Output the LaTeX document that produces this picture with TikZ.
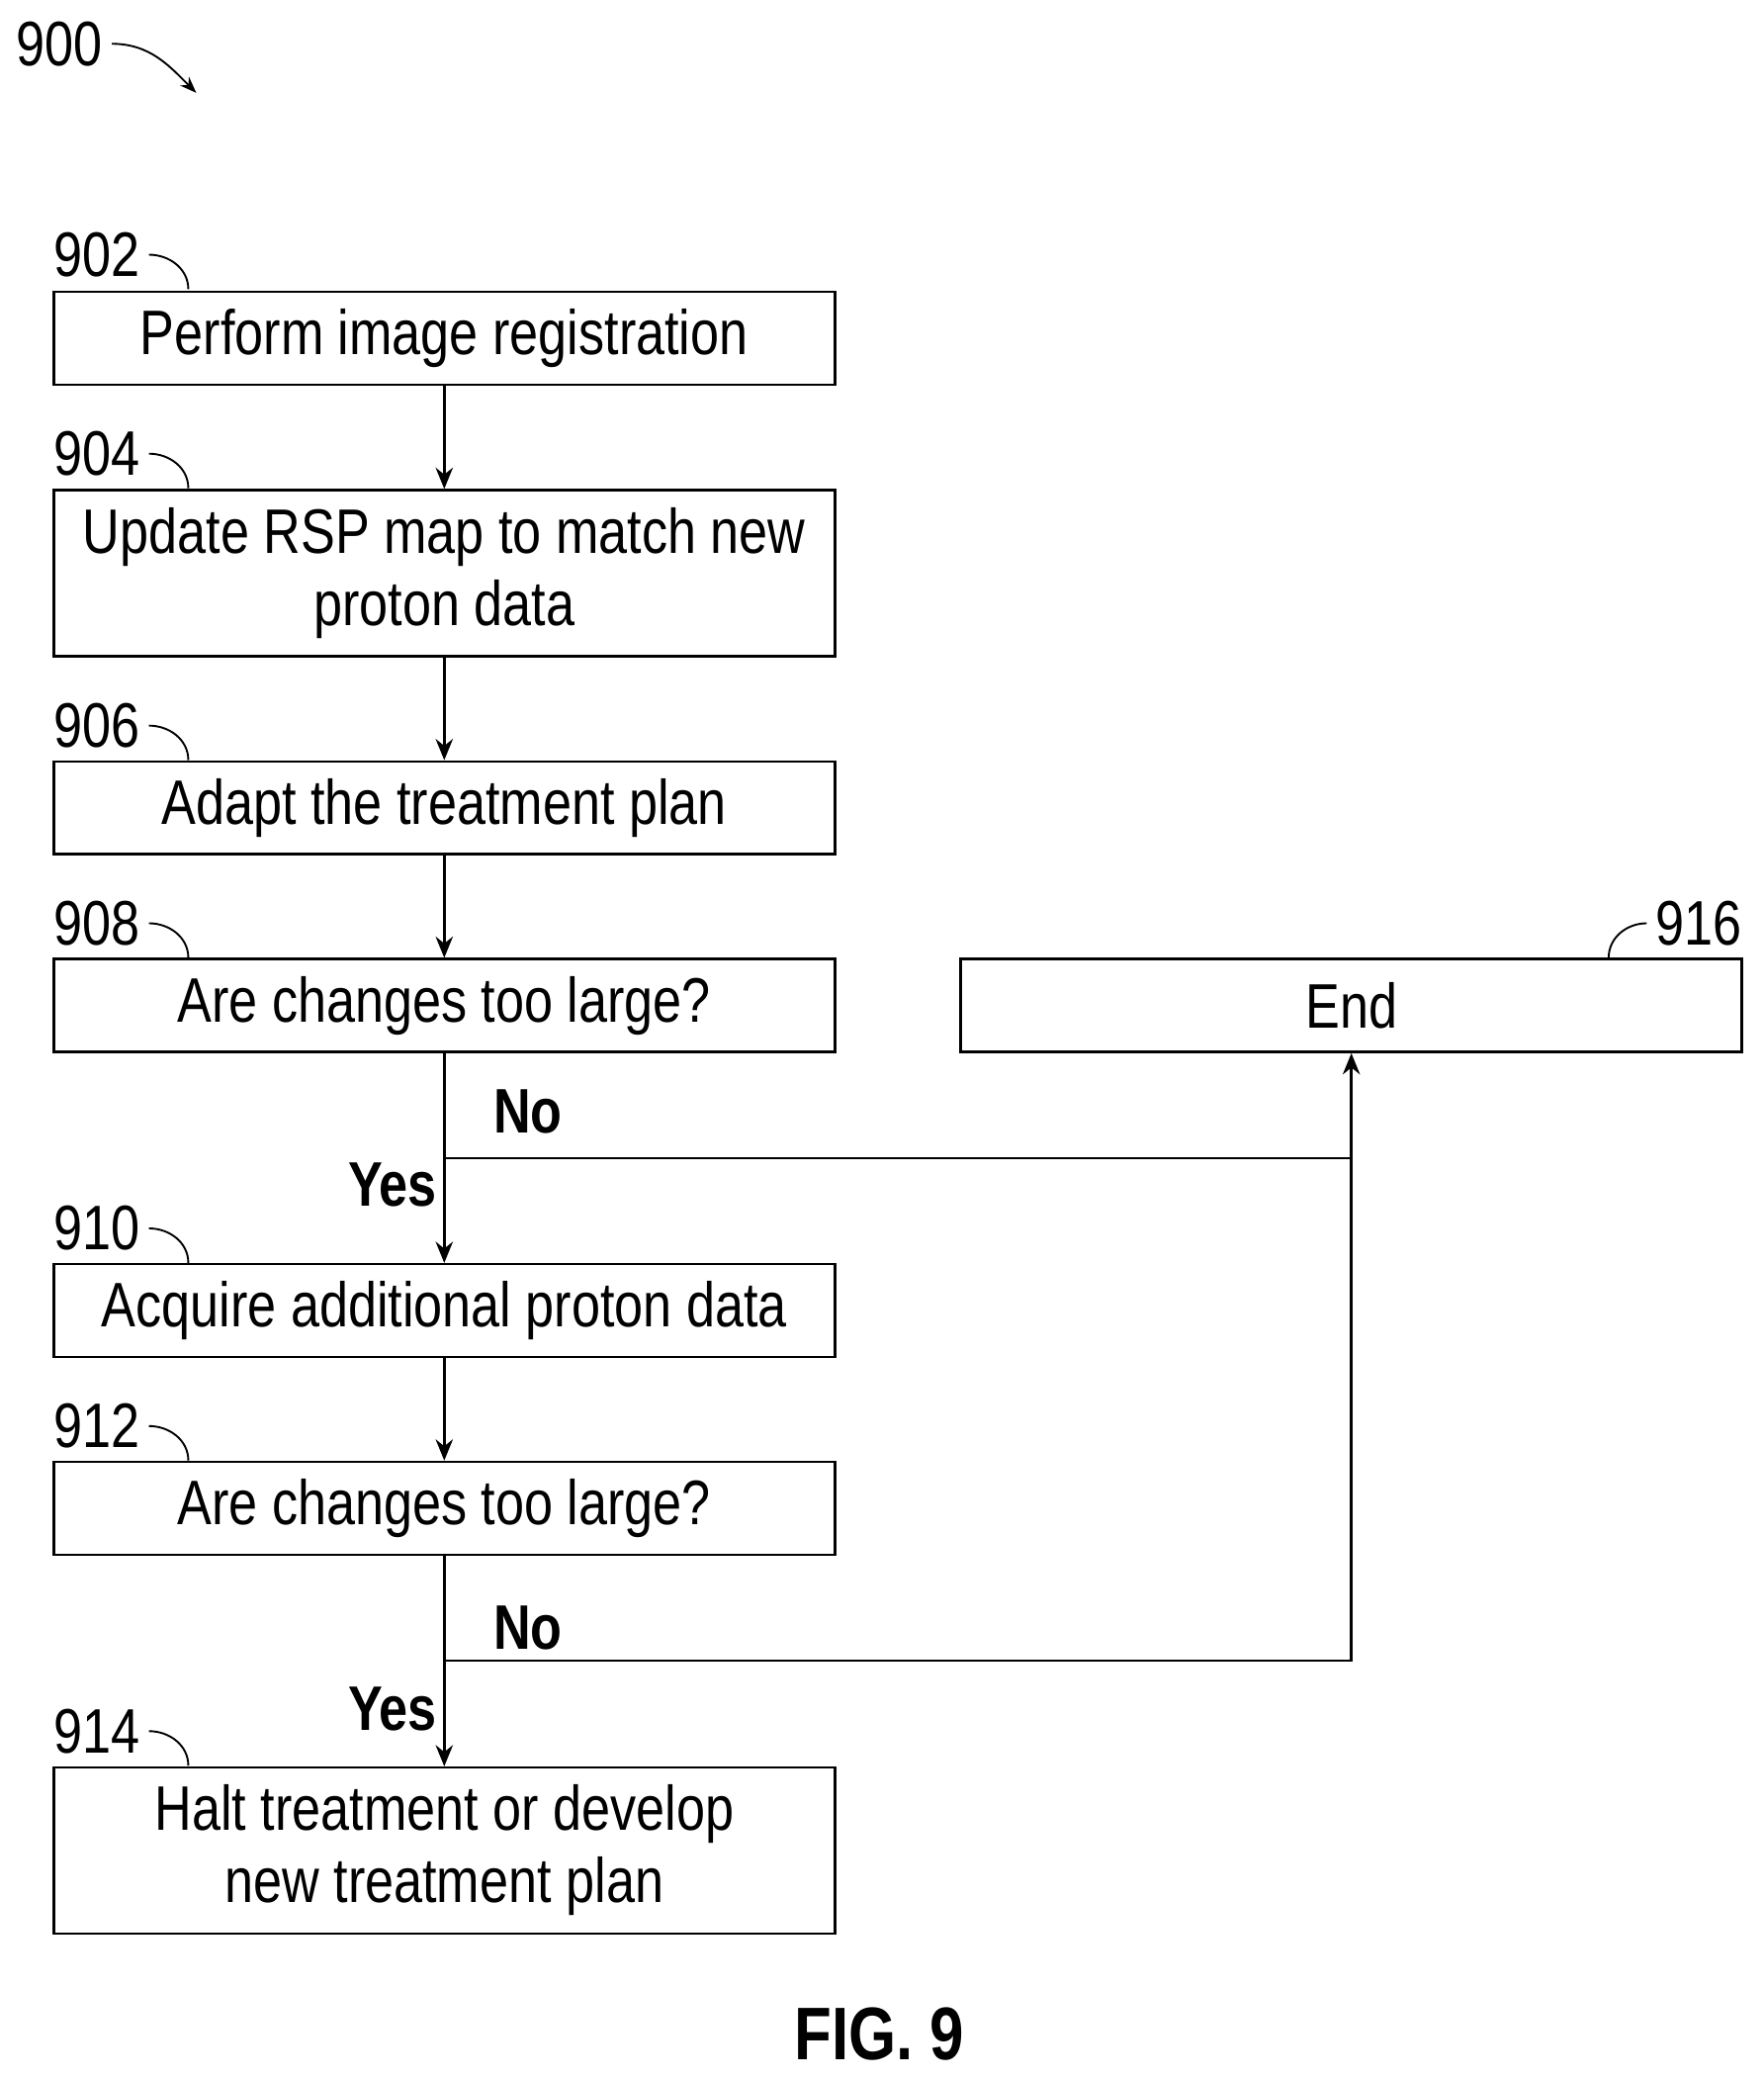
\documentclass[tikz,border=0pt]{standalone}
\usepackage{fontspec}
\setmainfont{Liberation Sans}[FakeStretch=0.82]
\usetikzlibrary{arrows.meta}
\begin{document}
\begin{tikzpicture}[x=0.02cm,y=-0.02cm,line width=1.1pt,
    box/.style={draw, minimum width=11.78cm, minimum height=1.4cm, align=center,
                 inner sep=0pt, font=\fontsize{27}{31}\selectfont},
    tallbox/.style={box, minimum height=2.5cm},
    ref/.style={font=\fontsize{27}{31}\selectfont},
    lbl/.style={font=\fontsize{27}{31}\selectfont\bfseries},
    arr/.style={-{Stealth[length=3.2mm,width=2.6mm]}},
    curl/.style={line width=0.8pt}]
  \useasboundingbox (0,0) rectangle (1330,1568);

  \node[box] (s902) at (335,255) {Perform image registration};
  \node[tallbox] (s904) at (335,432) {Update RSP map to match new\\proton data};
  \node[box] (s906) at (335,609) {Adapt the treatment plan};
  \node[box] (s908) at (335,758) {Are changes too large?};
  \node[box] (s916) at (1019,758) {End};
  \node[box] (s910) at (335,988) {Acquire additional proton data};
  \node[box] (s912) at (335,1137) {Are changes too large?};
  \node[tallbox] (s914) at (335,1395) {Halt treatment or develop\\new treatment plan};

  % reference numbers
  \node[ref] (r900) at (45,33) {900};
  \draw[curl, -{Stealth[length=2.5mm]}] (r900.east) to[out=0, in=135] (148,70);
  \foreach \n/\y in {902/192, 904/342, 906/547, 908/696, 910/926, 912/1075, 914/1305}{
    \node[ref] (r\n) at (73,\y) {\n};
    \draw[curl] (r\n.east) to[out=0, in=90] (142,\y+26);
  }
  \node[ref] (r916) at (1281,696) {916};
  \draw[curl] (r916.west) to[out=180, in=90] (1213,722);

  % flow
  \draw[arr] (s902) -- (s904);
  \draw[arr] (s904) -- (s906);
  \draw[arr] (s906) -- (s908);
  \draw[arr] (s908) -- (s910);
  \draw[arr] (s910) -- (s912);
  \draw[arr] (s912) -- (s914);

  \coordinate (j1) at (336,873);
  \coordinate (j2) at (336,1252);
  \draw (j1) -- (1019,873);
  \draw[arr] (j2) -| (s916.south);

  \node[lbl] (no1) at (398,838) {No};
  \node[lbl] (yes1) at (296,893) {Yes};
  \node[lbl] (no2) at (398,1227) {No};
  \node[lbl] (yes2) at (296,1288) {Yes};

  \node[font=\fontsize{32}{36}\selectfont\bfseries] (fig) at (663,1533) {FIG. 9};
\end{tikzpicture}
\end{document}
